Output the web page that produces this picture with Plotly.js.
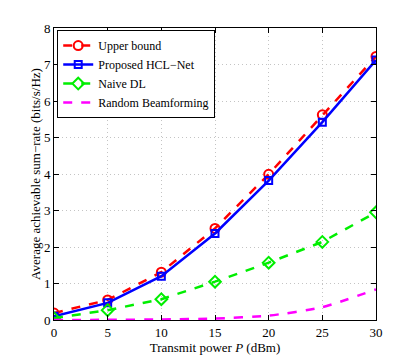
<!DOCTYPE html>
<html>
<head>
<meta charset="utf-8">
<script src="https://cdn.plot.ly/plotly-3.0.1.min.js"></script>
<style>
  html, body { margin: 0; padding: 0; background: #fff; }
  #plot { width: 415px; height: 360px; }
</style>
</head>
<body>
<div id="plot"></div>
<script>
// transmit power (dBm)
var power = [0, 5, 10, 15, 20, 25, 30];

// average achievable sum-rate (bits/s/Hz)
var upperBound = [0.19, 0.55, 1.31, 2.51, 3.99, 5.62, 7.22];
var hclNet = [0.1, 0.47, 1.2, 2.37, 3.82, 5.42, 7.12];
var naiveDL = [0.05, 0.27, 0.57, 1.05, 1.57, 2.14, 2.95];
var randomBF = [0.0, 0.005, 0.015, 0.04, 0.12, 0.35, 0.84];

var seriesNames = ["Upper bound", "Proposed HCL\u2212Net", "Naive DL", "Random Beamforming"];

var serif = "Liberation Serif, Times New Roman, serif";

var data = [
  {
    x: power, y: upperBound, name: seriesNames[0],
    type: "scatter", mode: "lines+markers",
    line: { color: "#ff0000", width: 2.5, dash: "dash" },
    marker: { symbol: "circle-open", size: 9, color: "#ff0000", line: { width: 2 } }
  },
  {
    x: power, y: hclNet, name: seriesNames[1],
    type: "scatter", mode: "lines+markers",
    line: { color: "#0000ff", width: 2.5 },
    marker: { symbol: "square-open", size: 7, color: "#0000ff", line: { width: 2 } }
  },
  {
    x: power, y: naiveDL, name: seriesNames[2],
    type: "scatter", mode: "lines+markers",
    line: { color: "#00ee00", width: 2.5, dash: "dash" },
    marker: { symbol: "diamond-open", size: 9, color: "#00ee00", line: { width: 2 } }
  },
  {
    x: power, y: randomBF, name: seriesNames[3],
    type: "scatter", mode: "lines",
    line: { color: "#ff00ff", width: 2.5, dash: "dash", shape: "spline", smoothing: 0.6 }
  }
];

var layout = {
  width: 415,
  height: 360,
  margin: { l: 54, r: 39, t: 28, b: 40 },
  paper_bgcolor: "#fff",
  plot_bgcolor: "#fff",
  font: { family: serif, size: 13, color: "#000" },
  showlegend: true,
  legend: {
    x: 0.01, y: 0.993, xanchor: "left", yanchor: "top",
    bgcolor: "#fff", bordercolor: "#000", borderwidth: 1,
    font: { family: serif, size: 12, color: "#000" },
    tracegroupgap: 0, itemwidth: 30
  },
  xaxis: {
    range: [0, 30], tickvals: [0, 5, 10, 15, 20, 25, 30],
    showline: true, linecolor: "#000", linewidth: 1, mirror: "ticks",
    ticks: "inside", ticklen: 5, tickcolor: "#000",
    showgrid: true, gridcolor: "#c4c4c4", griddash: "1px,3px", gridwidth: 1,
    zeroline: false,
    tickfont: { family: serif, size: 13 },
    title: { text: "Transmit power <i>P</i> (dBm)", font: { family: serif, size: 13 }, standoff: 2 }
  },
  yaxis: {
    range: [0, 8], tickvals: [0, 1, 2, 3, 4, 5, 6, 7, 8],
    showline: true, linecolor: "#000", linewidth: 1, mirror: "ticks",
    ticks: "inside", ticklen: 5, tickcolor: "#000",
    showgrid: true, gridcolor: "#c4c4c4", griddash: "1px,3px", gridwidth: 1,
    zeroline: false,
    tickfont: { family: serif, size: 13 },
    title: { text: "Average achievable sum\u2212rate (bits/s/Hz)", font: { family: serif, size: 13 }, standoff: 0 }
  }
};

Plotly.newPlot("plot", data, layout, { displayModeBar: false, staticPlot: true });
</script>
</body>
</html>
